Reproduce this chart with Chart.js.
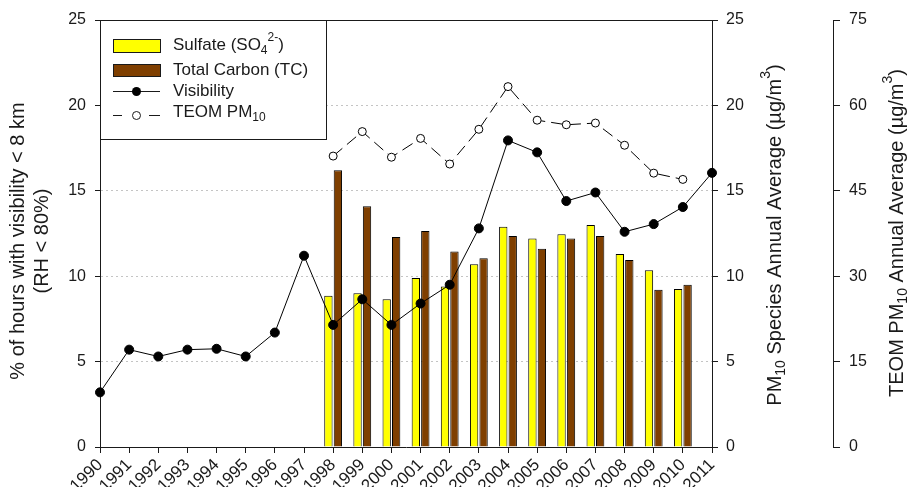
<!DOCTYPE html>
<html>
<head>
<meta charset="utf-8">
<script src="https://cdn.jsdelivr.net/npm/chart.js@4.4.0/dist/chart.umd.min.js"></script>
<style>
    html, body { margin: 0; padding: 0; background: #fff; }
    #wrap { width: 907px; height: 487px; position: relative; }
</style>
</head>
<body>
<div id="wrap"><canvas id="chart"></canvas></div>
<script>
// --- Data ---
const years = ['1990', '1991', '1992', '1993', '1994', '1995', '1996', '1997', '1998', '1999', '2000',
    '2001', '2002', '2003', '2004', '2005', '2006', '2007', '2008', '2009', '2010', '2011'];

// % of hours with visibility < 8 km (left axis)
const visibility = [3.2, 5.7, 5.3, 5.7, 5.75, 5.3, 6.7, 11.2, 7.15, 8.65, 7.15,
    8.4, 9.5, 12.8, 17.95, 17.25, 14.4, 14.9, 12.6, 13.05, 14.05, 16.05];

// TEOM PM10 annual average (second right axis, 0-75)
const teomPm10 = [null, null, null, null, null, null, null, null, 51.1, 55.4, 50.9,
    54.2, 49.7, 55.8, 63.3, 57.4, 56.6, 56.9, 53.0, 48.1, 47.0, null];

// PM10 species annual average (first right axis, 0-25)
const sulfate = [null, null, null, null, null, null, null, null, 8.85, 9.0, 8.65,
    9.9, 9.4, 10.7, 12.9, 12.2, 12.45, 13.0, 11.3, 10.35, 9.25, null];
const totalCarbon = [null, null, null, null, null, null, null, null, 16.2, 14.1, 12.3,
    12.65, 11.45, 11.05, 12.35, 11.6, 12.2, 12.35, 10.95, 9.2, 9.5, null];

const leftMax = 25, leftStep = 5;
const speciesMax = 25, speciesStep = 5;
const teomMax = 75, teomStep = 15;

const FONT = "'Liberation Sans', Arial, sans-serif";
const INK = '#1a1a1a';
const YELLOW = '#ffff00';
const BROWN = '#7f3f00';

// draws text made of pieces, some of them sub- or superscript
function drawRich(ctx, parts, x, y, size, align) {
    const fontFor = (kind) => `${kind ? Math.round(size * 0.68) : size}px ${FONT}`;
    let total = 0;
    parts.forEach(([t, kind]) => { ctx.font = fontFor(kind); total += ctx.measureText(t).width; });
    let cx = align === 'center' ? x - total / 2 : x;
    ctx.textAlign = 'left';
    ctx.textBaseline = 'middle';
    parts.forEach(([t, kind]) => {
        ctx.font = fontFor(kind);
        const dy = kind === 'sub' ? size * 0.32 : kind === 'sup' ? -size * 0.42 : 0;
        ctx.fillText(t, cx, y + dy);
        cx += ctx.measureText(t).width;
    });
}

function drawRotated(ctx, parts, x, y, size) {
    ctx.save();
    ctx.translate(x, y);
    ctx.rotate(-Math.PI / 2);
    drawRich(ctx, parts, 0, 0, size, 'center');
    ctx.restore();
}

const decorPlugin = {
    id: 'decor',
    afterDraw(chart) {
        const ctx = chart.ctx;
        const area = chart.chartArea;
        ctx.save();
        ctx.fillStyle = INK;
        ctx.strokeStyle = INK;
        ctx.lineWidth = 1;

        // top frame line
        ctx.beginPath();
        ctx.moveTo(area.left, area.top + 0.5);
        ctx.lineTo(area.right, area.top + 0.5);
        ctx.stroke();

        // axis titles
        drawRotated(ctx, [['% of hours with visibility < 8 km']], 18, 241, 20);
        drawRotated(ctx, [['(RH < 80%)']], 42, 241, 20);
        drawRotated(ctx, [['PM'], ['10', 'sub'], [' Species Annual Average (\u00b5g/m'], ['3', 'sup'], [')']], 775, 235, 20);
        drawRotated(ctx, [['TEOM PM'], ['10', 'sub'], [' Annual Average (\u00b5g/m'], ['3', 'sup'], [')']], 897, 233, 20);

        // legend box
        const lx = area.left, ly = area.top, lw = 226, lh = 119;
        ctx.fillStyle = '#fff';
        ctx.fillRect(lx, ly, lw, lh);
        ctx.strokeRect(lx + 0.5, ly + 0.5, lw, lh);

        const sx = 113, sw = 47, tx = 173;
        ctx.fillStyle = YELLOW;
        ctx.fillRect(sx, 39, sw, 13);
        ctx.strokeRect(sx + 0.5, 39.5, sw, 13);
        ctx.fillStyle = BROWN;
        ctx.fillRect(sx, 64, sw, 12);
        ctx.strokeRect(sx + 0.5, 64.5, sw, 12);

        ctx.beginPath();
        ctx.moveTo(sx, 91.5);
        ctx.lineTo(sx + sw, 91.5);
        ctx.stroke();
        ctx.fillStyle = '#000';
        ctx.beginPath();
        ctx.arc(sx + sw / 2, 91.5, 4.5, 0, Math.PI * 2);
        ctx.fill();

        ctx.beginPath();
        ctx.moveTo(sx, 115.5);
        ctx.lineTo(sx + 9, 115.5);
        ctx.moveTo(sx + 36, 115.5);
        ctx.lineTo(sx + sw, 115.5);
        ctx.stroke();
        ctx.fillStyle = '#fff';
        ctx.beginPath();
        ctx.arc(sx + sw / 2, 115.5, 4, 0, Math.PI * 2);
        ctx.fill();
        ctx.stroke();

        ctx.fillStyle = INK;
        drawRich(ctx, [['Sulfate (SO'], ['4', 'sub'], ['2-', 'sup'], [')']], tx, 45, 17, 'left');
        drawRich(ctx, [['Total Carbon (TC)']], tx, 70, 17, 'left');
        drawRich(ctx, [['Visibility']], tx, 91, 17, 'left');
        drawRich(ctx, [['TEOM PM'], ['10', 'sub']], tx, 112, 17, 'left');
        ctx.restore();
    }
};

const tickFont = { family: FONT, size: 16 };

new Chart(document.getElementById('chart'), {
    type: 'bar',
    data: {
        labels: years,
        datasets: [
            {
                type: 'line',
                label: 'Visibility',
                data: visibility,
                yAxisID: 'y',
                borderColor: '#000',
                borderWidth: 1,
                pointRadius: 4.5,
                pointBackgroundColor: '#000',
                pointBorderColor: '#000',
                tension: 0,
                clip: false,
                order: 1
            },
            {
                type: 'line',
                label: 'TEOM PM10',
                data: teomPm10,
                yAxisID: 'y2',
                borderColor: '#000',
                borderWidth: 1,
                borderDash: [12, 6],
                pointRadius: 4,
                pointBackgroundColor: '#fff',
                pointBorderColor: '#000',
                pointBorderWidth: 1,
                tension: 0,
                clip: false,
                order: 2
            },
            {
                label: 'Sulfate',
                data: sulfate,
                yAxisID: 'y1',
                backgroundColor: YELLOW,
                borderColor: '#000',
                borderWidth: 1,
                categoryPercentage: 0.65,
                barPercentage: 0.88,
                order: 3
            },
            {
                label: 'Total Carbon (TC)',
                data: totalCarbon,
                yAxisID: 'y1',
                backgroundColor: BROWN,
                borderColor: '#000',
                borderWidth: 1,
                categoryPercentage: 0.65,
                barPercentage: 0.88,
                order: 3
            }
        ]
    },
    options: {
        responsive: true,
        maintainAspectRatio: false,
        animation: false,
        devicePixelRatio: 1,
        layout: { padding: { top: 20, left: 0, right: 0, bottom: 0 } },
        plugins: {
            legend: { display: false },
            tooltip: { enabled: false }
        },
        scales: {
            x: {
                type: 'category',
                offset: false,
                grid: { offset: false, drawOnChartArea: false, tickLength: 6, tickColor: INK },
                border: { color: INK },
                ticks: { font: { family: FONT, size: 17 }, color: INK, minRotation: 45, maxRotation: 45, autoSkip: false, padding: 2 },
                afterFit: (s) => { s.height = 40; }
            },
            y: {
                position: 'left',
                min: 0,
                max: leftMax,
                grid: {
                    color: (c) => (c.tick && (c.tick.value === 0 || c.tick.value === leftMax)) ? 'rgba(0,0,0,0)' : '#c4c4c4',
                    tickColor: INK,
                    tickLength: 5,
                    tickBorderDash: []
                },
                border: { color: INK, dash: [2, 3] },
                ticks: { stepSize: leftStep, font: tickFont, color: INK, padding: 9 },
                afterFit: (s) => { s.width = 100; }
            },
            y1: {
                position: 'right',
                min: 0,
                max: speciesMax,
                weight: 0,
                grid: { drawOnChartArea: false, tickColor: INK, tickLength: 6 },
                border: { color: INK },
                ticks: { stepSize: speciesStep, font: tickFont, color: INK, padding: 8 },
                afterFit: (s) => { s.width = 121; }
            },
            y2: {
                position: 'right',
                min: 0,
                max: teomMax,
                weight: 1,
                grid: { drawOnChartArea: false, tickColor: INK, tickLength: 7 },
                border: { color: INK },
                ticks: { stepSize: teomStep, font: tickFont, color: INK, padding: 9 },
                afterFit: (s) => { s.width = 74; }
            }
        }
    },
    plugins: [decorPlugin]
});
</script>
</body>
</html>
